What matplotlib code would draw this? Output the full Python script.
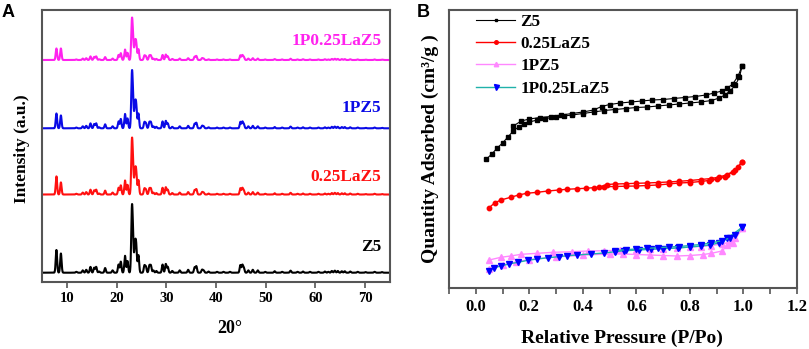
import numpy as np
import matplotlib
matplotlib.use("Agg")
import matplotlib.pyplot as plt
from matplotlib.ticker import MultipleLocator

SERIF = ["Liberation Serif", "DejaVu Serif"]
SANS = ["Liberation Sans", "DejaVu Sans"]

# ---------------- Panel A data (XRD) ----------------
xrd_names = ["Z5", "0.25LaZ5", "1PZ5", "1P0.25LaZ5"]
xrd_colors = ["#000000", "#FF1010", "#0A0AE6", "#FF22EE"]
xrd_offsets = [9.3, 87.5, 153.7, 222.0]
xrd_scales = [68.7, 57.0, 58.3, 42.5]
# heights of the two low-angle peaks (7.9, 8.8 deg) relative to the main peak
xrd_low_angle = [[0.39, 0.33], [0.375, 0.25], [0.30, 0.26], [0.32, 0.32]]
# shared peak list (Z5 reflections)
peak_pos = [7.9, 8.8, 11.9, 13.2, 13.9, 14.75, 15.5, 15.9, 16.5, 17.7, 19.2, 20.4,
            20.85, 21.7, 22.2, 23.08, 23.3, 23.7, 23.95, 24.4, 25.6, 25.9, 26.6, 26.9,
            27.4, 28.0, 29.25, 29.9, 30.3, 31.2, 32.7, 34.4, 35.7, 36.05, 37.2, 37.5,
            38.5, 40.2, 41.5, 42.8, 44.9, 45.3, 45.6, 46.5, 47.4, 48.4, 49.9, 51.8,
            53.3, 55.0, 56.4, 57.5, 58.9, 60.6, 61.9, 62.6, 63.3, 63.9, 64.5, 65.3,
            65.9, 67.0, 68.5, 70.1, 71.9, 73.4]
peak_rel = [0.39, 0.33, 0.015, 0.04, 0.05, 0.10, 0.085, 0.10, 0.02, 0.08, 0.04, 0.14,
            0.19, 0.29, 0.20, 1.00, 0.50, 0.44, 0.43, 0.30, 0.12, 0.10, 0.12, 0.12,
            0.04, 0.03, 0.14, 0.15, 0.10, 0.03, 0.04, 0.05, 0.09, 0.11, 0.05, 0.04,
            0.02, 0.015, 0.015, 0.015, 0.13, 0.13, 0.08, 0.04, 0.05, 0.04, 0.015, 0.025,
            0.015, 0.035, 0.015, 0.02, 0.015, 0.015, 0.02, 0.015, 0.03, 0.035, 0.03, 0.025,
            0.025, 0.02, 0.015, 0.01, 0.015, 0.01]
xrd_label_y = [35, 105, 174, 241]
xrd_ticks = [10, 20, 30, 40, 50, 60, 70]

# ---------------- Panel B data (N2 isotherms) ----------------
z5_ads_p = [0.04, 0.06, 0.08, 0.10, 0.12, 0.14, 0.16, 0.18, 0.20, 0.23, 0.26, 0.30, 0.33,
            0.36, 0.40, 0.44, 0.48, 0.52, 0.56, 0.60, 0.64, 0.68, 0.72, 0.76, 0.80, 0.84,
            0.88, 0.91, 0.93, 0.95, 0.97, 0.985, 0.995]
z5_ads_q = [129, 134, 140, 145, 151, 157, 161, 164, 166, 168, 169.5, 171, 172, 173, 174.5,
            176, 177.5, 178.5, 179.5, 180.5, 181, 182, 183, 184, 185, 186, 187.5, 190, 193,
            197, 203, 211, 222]
z5_des_p = [0.995, 0.98, 0.96, 0.94, 0.92, 0.89, 0.86, 0.82, 0.78, 0.74, 0.70, 0.66, 0.62,
            0.58, 0.54, 0.50, 0.47, 0.44, 0.40, 0.36, 0.32, 0.28, 0.24, 0.20, 0.17, 0.14]
z5_des_q = [222, 212, 204, 200, 197, 195, 193, 191.5, 190.5, 189.5, 188.5, 188, 187, 186,
            185, 183.5, 181.5, 178, 176, 174.5, 173, 171.5, 170.5, 169, 167, 162]

la_ads_p = [0.05, 0.07, 0.094, 0.13, 0.16, 0.19, 0.23, 0.27, 0.31, 0.34, 0.38, 0.41, 0.44,
            0.48, 0.52, 0.56, 0.60, 0.64, 0.68, 0.72, 0.76, 0.80, 0.84, 0.87, 0.90, 0.93,
            0.96, 0.98, 0.995]
la_ads_q = [80.3, 85, 88, 90.7, 93, 94.7, 95.7, 97, 98, 98.7, 99.3, 99.7, 100.3, 101.3,
            101.5, 101.8, 102, 102.5, 103, 104, 105, 105.5, 106.5, 107.5, 109, 111.5, 116,
            121, 126.3]
la_des_p = [0.995, 0.97, 0.94, 0.91, 0.88, 0.84, 0.80, 0.76, 0.72, 0.68, 0.64, 0.60, 0.56,
            0.52, 0.49, 0.46]
la_des_q = [126.3, 118, 113.5, 111, 109.5, 108.5, 107.5, 106.7, 106, 105.5, 105, 104.7,
            104.3, 104, 103.5, 100.7]

p_ads_p = [0.05, 0.10, 0.15, 0.20, 0.30, 0.40, 0.50, 0.55, 0.60, 0.65, 0.70, 0.75, 0.80,
           0.85, 0.88, 0.92, 0.94, 0.96, 0.995]
p_ads_q = [19, 23, 26, 28.5, 31, 33, 34, 34, 33.5, 33, 32.5, 32, 32.5, 33.5, 34.7, 37, 43,
           44.7, 59.7]
p_des_p = [0.995, 0.97, 0.95, 0.92, 0.88, 0.84, 0.80, 0.75, 0.70, 0.65, 0.60, 0.54, 0.48,
           0.42, 0.36, 0.29, 0.23, 0.17, 0.13, 0.094, 0.05]
p_des_q = [59.7, 50, 46, 44, 42.5, 41.5, 41, 40, 39.5, 39, 38.5, 37.7, 37.3, 37, 36.3,
           35.7, 34.7, 33.7, 32, 30.7, 28]

pla_ads_p = [0.05, 0.068, 0.094, 0.124, 0.157, 0.195, 0.23, 0.27, 0.31, 0.34, 0.38, 0.43,
             0.48, 0.52, 0.555, 0.61, 0.655, 0.70, 0.755, 0.80, 0.84, 0.875, 0.91, 0.94,
             0.995]
pla_ads_q = [17.3, 20.3, 22, 24, 25.7, 27.7, 29, 30.3, 31.3, 32.3, 33, 34, 35, 36.3, 37.3,
             38, 38.7, 39.3, 40, 41, 42, 43, 45.3, 49.7, 60.7]
pla_des_p = [0.995, 0.97, 0.95, 0.92, 0.88, 0.84, 0.80, 0.76, 0.72, 0.68, 0.64, 0.60, 0.56,
             0.52]
pla_des_q = [60.7, 53, 50, 47.5, 45, 43.5, 42.5, 41.5, 41, 40.3, 39.7, 39, 38.3, 37.3]

bet_ticks = [0.0, 0.2, 0.4, 0.6, 0.8, 1.0, 1.2]

# ---------------- Figure ----------------
fig = plt.figure(figsize=(8.09, 3.49), dpi=100)
W, H = 809, 349

def add_axes_px(l, t, r, b):
    return fig.add_axes([l / W, 1 - b / H, (r - l) / W, (b - t) / H])

axA = add_axes_px(42, 10, 390, 282)
axB = add_axes_px(449, 10, 797, 288)

spine_col = "#555555"
for ax in (axA, axB):
    for s in ax.spines.values():
        s.set_color(spine_col)
        s.set_linewidth(1.5)

# Panel A
x = np.arange(5.0, 75.0001, 0.02)
sigma = 0.14
for name, col, off, sc, low, ly in zip(xrd_names, xrd_colors, xrd_offsets, xrd_scales,
                                       xrd_low_angle, xrd_label_y):
    heights = list(peak_rel)
    heights[0], heights[1] = low
    prof = np.zeros_like(x)
    for p0, h in zip(peak_pos, heights):
        prof += h * np.exp(-(x - p0) ** 2 / (2 * sigma ** 2))
    prof /= prof.max()
    axA.plot(x, off + sc * prof, color=col, lw=1.5)
    axA.text(73.3, ly, name, color=col, ha="right", va="center",
             fontsize=12.5, fontweight="bold", family=SERIF)

axA.set_xlim(5, 75)
axA.set_ylim(0, 272)
axA.set_xticks(xrd_ticks)
axA.set_yticks([])
axA.tick_params(axis="x", direction="out", length=4, width=1.2, color=spine_col,
                labelsize=10.5, pad=3)
for lab in axA.get_xticklabels():
    lab.set_fontweight("bold")
    lab.set_family(SERIF)
axA.set_xlabel("20°", fontsize=13, fontweight="bold", family=SERIF)
axA.xaxis.set_label_coords(0.54, -0.14)
axA.set_ylabel("Intensity (a.u.)", fontsize=12.5, fontweight="bold", family=SERIF)
axA.yaxis.set_label_coords(-0.035, 0.49)

# Panel B
axB.plot(z5_ads_p, z5_ads_q, color="black", lw=0.8, marker="s", ms=2.6, label="Z5")
axB.plot(z5_des_p, z5_des_q, color="black", lw=0.8, marker="s", ms=2.6)
axB.plot(la_ads_p, la_ads_q, color="#FF0000", lw=1.0, marker="o", ms=3.2, label="0.25LaZ5")
axB.plot(la_des_p, la_des_q, color="#FF0000", lw=1.0, marker="o", ms=3.2)
axB.plot(p_ads_p, p_ads_q, color="#FF88FF", lw=1.0, marker="^", ms=4.0,
         mfc="#FF88FF", mec="#FF88FF", label="1PZ5")
axB.plot(p_des_p, p_des_q, color="#FF88FF", lw=1.0, marker="^", ms=4.0,
         mfc="#FF88FF", mec="#FF88FF")
axB.plot(pla_ads_p, pla_ads_q, color="#20B2AA", lw=1.0, marker="v", ms=4.5,
         mfc="#0000FF", mec="#0000FF", label="1P0.25LaZ5")
axB.plot(pla_des_p, pla_des_q, color="#20B2AA", lw=1.0, marker="v", ms=4.5,
         mfc="#0000FF", mec="#0000FF")

axB.set_xlim(-0.1, 1.2)
axB.set_ylim(0, 278)
axB.set_xticks(bet_ticks)
axB.set_xticklabels([f"{t:.1f}" for t in bet_ticks])
axB.xaxis.set_minor_locator(MultipleLocator(0.1))
axB.set_yticks([])
axB.tick_params(axis="x", which="both", direction="out", length=4, width=1.2,
                color=spine_col, labelsize=12, pad=4)
for lab in axB.get_xticklabels():
    lab.set_fontweight("bold")
    lab.set_family(SERIF)
axB.set_xlabel("Relative Pressure (P/Po)", fontsize=14, fontweight="bold", family=SERIF)
axB.xaxis.set_label_coords(0.496, -0.15)
axB.set_ylabel("Quantity Adsorbed (cm³/g )", fontsize=14, fontweight="bold", family=SERIF)
axB.yaxis.set_label_coords(-0.03, 0.5)

leg = axB.legend(loc="upper left", bbox_to_anchor=(0.078, 0.985), frameon=False,
                 borderpad=0, borderaxespad=0, handlelength=2.3, handletextpad=0.3,
                 labelspacing=0.36, markerscale=0.8,
                 prop={"family": SERIF, "weight": "bold", "size": 12.3})

fig.text(2 / W, 1 - 4 / H, "A", ha="left", va="top", fontsize=13, fontweight="bold",
         family=SANS)
fig.text(417 / W, 1 - 4 / H, "B", ha="left", va="top", fontsize=13, fontweight="bold",
         family=SANS)

fig.savefig("out.png", dpi=100)
